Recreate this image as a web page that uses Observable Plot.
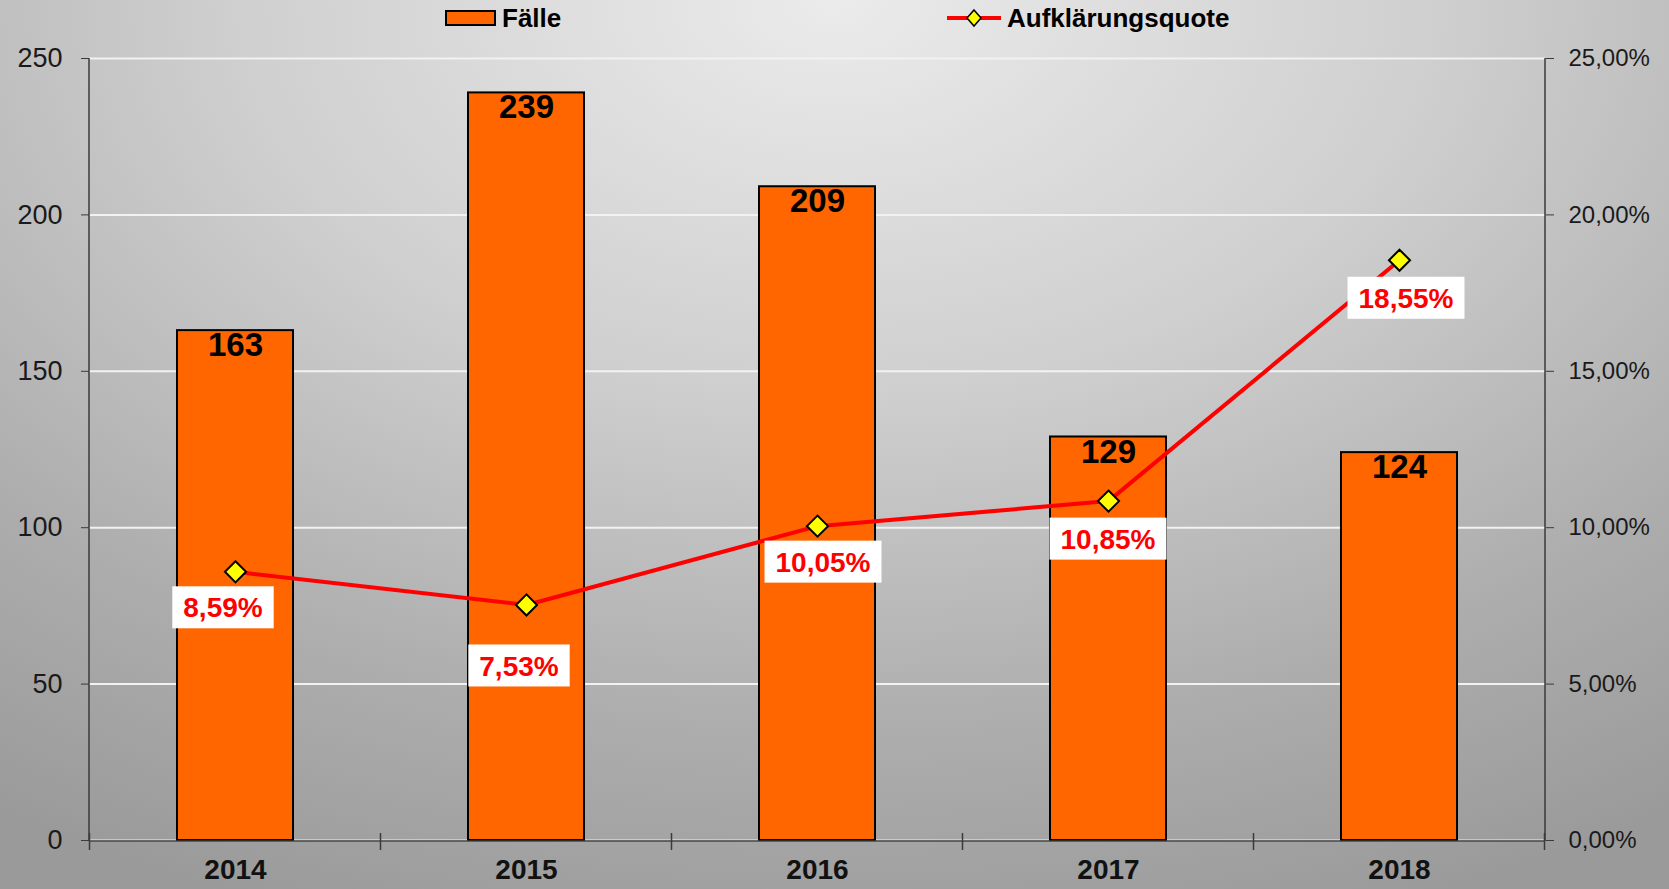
<!DOCTYPE html>
<html>
<head>
<meta charset="utf-8">
<script src="https://cdn.jsdelivr.net/npm/d3@7"></script>
<script src="https://cdn.jsdelivr.net/npm/@observablehq/plot@0.6"></script>
<style>
  html, body { margin: 0; padding: 0; }
  body {
    width: 1669px; height: 889px; overflow: hidden; position: relative;
    font-family: "Liberation Sans", Arial, sans-serif;
    background: radial-gradient(ellipse 90% 110% at 50% 0%, #ebebeb 0%, #cfcfcf 40%, #adadad 75%, #9a9a9a 100%);
  }
  #chart { position: absolute; left: 0; top: 0; }
  .legend { position: absolute; top: 0; left: 0; width: 1669px; height: 40px; font-weight: bold; font-size: 26px; color: #000; }
  .legend .item { position: absolute; top: 4px; display: flex; align-items: center; height: 28px; }
</style>
</head>
<body>
<div id="chart"></div>
<div class="legend">
  <div class="item" style="left:445px;">
    <span style="display:inline-block;width:47px;height:12px;background:#ff6600;border:2px solid #000;margin-right:6px;"></span>
    <span>Fälle</span>
  </div>
  <div class="item" style="left:947px;">
    <svg width="56" height="20" style="margin-right:4px;">
      <line x1="0" y1="10" x2="54" y2="10" stroke="#ff0000" stroke-width="4"></line>
      <path d="M27,2 L34,10 L27,18 L20,10 Z" fill="#ffff00" stroke="#000" stroke-width="1.5"></path>
    </svg>
    <span>Aufklärungsquote</span>
  </div>
</div>
<script>
const years = ["2014", "2015", "2016", "2017", "2018"];
const faelle = [163, 239, 209, 129, 124];
const quote = [8.59, 7.53, 10.05, 10.85, 18.55];
const yTicks = [0, 50, 100, 150, 200, 250];
const pctTicks = [0, 5, 10, 15, 20, 25];

const rows = years.map((year, i) => ({year, faelle: faelle[i], quote: quote[i]}));
const pctToY = p => p * 10; // 25 % on the right axis = 250 on the left
const fmtPct = v => v.toFixed(2).replace(".", ",") + "%";

// label placement nudges (pixels) as in the original annotation layout
const labelNudge = [[-12, 36], [-7, 61], [6, 36], [0, 38], [7, 38]];

function axisFrame(index, scales, values, dims) {
  const {width, height, marginLeft, marginRight, marginTop, marginBottom} = dims;
  const x0 = marginLeft, x1 = width - marginRight, y0 = height - marginBottom, yT = marginTop;
  const g = d3.create("svg:g").attr("stroke", "#3a3a3a").attr("stroke-width", 1.5).attr("fill", "none");
  g.append("line").attr("x1", x0).attr("x2", x0).attr("y1", yT).attr("y2", y0 + 1);
  g.append("line").attr("x1", x1).attr("x2", x1).attr("y1", yT).attr("y2", y0 + 1);
  g.append("line").attr("x1", x0).attr("x2", x1).attr("y1", y0 + 1).attr("y2", y0 + 1);
  const x = scales.x;
  const step = typeof x.step === "function" ? x.step() : (x1 - x0) / years.length;
  const bw = typeof x.bandwidth === "function" ? x.bandwidth() : 0;
  const bounds = years.map(yr => x(yr) - (step - bw) / 2);
  bounds.push(bounds[bounds.length - 1] + step);
  for (const b of bounds) {
    g.append("line").attr("x1", b).attr("x2", b).attr("y1", y0 - 7).attr("y2", y0 + 10);
  }
  return g.node();
}

function pctLabels(index, scales, values, dims) {
  const x = scales.x, y = scales.y;
  const bw = typeof x.bandwidth === "function" ? x.bandwidth() : 0;
  const ctx = document.createElement("canvas").getContext("2d");
  ctx.font = "bold 28px 'Liberation Sans'";
  const g = d3.create("svg:g");
  rows.forEach((d, i) => {
    const cx = x(d.year) + bw / 2 + labelNudge[i][0];
    const cy = y(pctToY(d.quote)) + labelNudge[i][1];
    const label = fmtPct(d.quote);
    const w = ctx.measureText(label).width + 22;
    const h = 42;
    g.append("rect").attr("x", cx - w / 2).attr("y", cy - h / 2).attr("width", w).attr("height", h).attr("fill", "#ffffff");
    g.append("text").attr("x", cx).attr("y", cy).attr("dy", "0.36em")
      .attr("text-anchor", "middle").attr("font-size", 28).attr("font-weight", "bold")
      .attr("fill", "#ff0000").attr("font-family", "'Liberation Sans', Arial, sans-serif")
      .text(label);
  });
  return g.node();
}

const chart = Plot.plot({
  width: 1669,
  height: 889,
  marginLeft: 89,
  marginRight: 124,
  marginTop: 58,
  marginBottom: 49,
  style: {background: "transparent", fontFamily: "'Liberation Sans', Arial, sans-serif"},
  x: {type: "band", domain: years, paddingInner: 0.6, paddingOuter: 0.3},
  y: {domain: [0, 250]},
  marks: [
    Plot.gridY(yTicks, {stroke: "#f2f2f2", strokeOpacity: 1, strokeWidth: 2}),
    Plot.barY(rows, {x: "year", y: "faelle", fill: "#ff6600", stroke: "#000000", strokeWidth: 2}),
    axisFrame,
    Plot.line(rows, {x: "year", y: d => pctToY(d.quote), stroke: "#ff0000", strokeWidth: 4}),
    Plot.dot(rows, {x: "year", y: d => pctToY(d.quote), symbol: "diamond2", r: 9.5, fill: "#ffff00", stroke: "#000000", strokeWidth: 2}),
    Plot.text(rows, {x: "year", y: "faelle", text: d => String(d.faelle), dy: 15, fontSize: 33, fontWeight: "bold", fill: "#000000"}),
    pctLabels,
    Plot.axisY({anchor: "left", ticks: yTicks, tickSize: 8, tickPadding: 19, fontSize: 27, fill: "#1a1a1a", stroke: "#3a3a3a", label: null}),
    Plot.axisY({anchor: "right", ticks: pctTicks.map(pctToY), tickFormat: d => fmtPct(d / 10), tickSize: 8, tickPadding: 15, fontSize: 24, fill: "#1a1a1a", stroke: "#3a3a3a", label: null}),
    Plot.axisX({tickSize: 0, tickPadding: 19, fontSize: 28, fontWeight: "bold", fill: "#111111", label: null})
  ]
});
document.getElementById("chart").appendChild(chart);
</script>
</body>
</html>
